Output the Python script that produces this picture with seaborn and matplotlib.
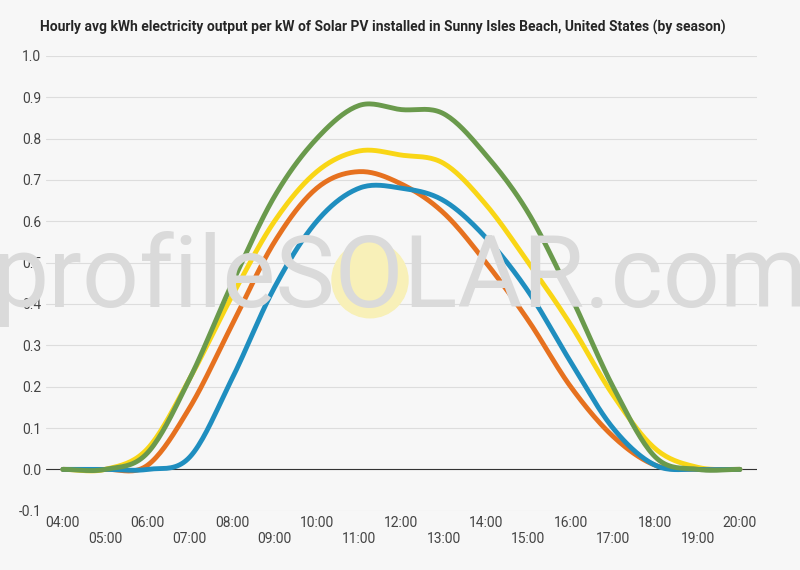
import numpy as np
import pandas as pd
import matplotlib.pyplot as plt
import seaborn as sns
from matplotlib.patches import Ellipse

sns.set_style("whitegrid")
plt.rcParams['font.family'] = ['Roboto', 'DejaVu Sans']

hours = list(range(4, 21))
summer = [0, 0, 0.05, 0.22, 0.42, 0.60, 0.72, 0.77, 0.76, 0.74, 0.64, 0.50, 0.35, 0.18, 0.05, 0.005, 0]
autumn = [0, 0, 0.01, 0.15, 0.35, 0.55, 0.68, 0.72, 0.69, 0.62, 0.50, 0.36, 0.20, 0.08, 0.01, 0, 0]
winter = [0, 0, 0, 0.03, 0.22, 0.44, 0.60, 0.68, 0.68, 0.65, 0.56, 0.43, 0.26, 0.10, 0.01, 0, 0]
spring = [0, 0, 0.04, 0.22, 0.45, 0.66, 0.80, 0.88, 0.87, 0.86, 0.76, 0.62, 0.42, 0.20, 0.03, 0, 0]
series = {'Summer': summer, 'Autumn': autumn, 'Winter': winter, 'Spring': spring}
colors = {'Summer': '#f9d616', 'Autumn': '#e6711f', 'Winter': '#1f8ebf', 'Spring': '#6a9a4c'}


def smooth(x, y, n=20):
    # Catmull-Rom through the hourly points
    x = np.asarray(x, float); y = np.asarray(y, float)
    yp = np.concatenate([[y[0]], y, [y[-1]]])
    xs, ys = [], []
    for i in range(len(x) - 1):
        t = np.linspace(0, 1, n, endpoint=False)
        p0, p1, p2, p3 = yp[i], yp[i + 1], yp[i + 2], yp[i + 3]
        v = 0.5 * (2 * p1 + (-p0 + p2) * t + (2 * p0 - 5 * p1 + 4 * p2 - p3) * t ** 2
                   + (-p0 + 3 * p1 - 3 * p2 + p3) * t ** 3)
        xs.extend(x[i] + t); ys.extend(v)
    xs.append(x[-1]); ys.append(y[-1])
    return np.array(xs), np.array(ys)


rows = []
for name, vals in series.items():
    xs, ys = smooth(hours, vals)
    rows.append(pd.DataFrame({'hour': xs, 'kwh': ys, 'season': name}))
df = pd.concat(rows)

fig, ax = plt.subplots(figsize=(8, 5.7), dpi=100)
fig.patch.set_facecolor('#f7f7f7')
ax.set_facecolor('none')
fig.subplots_adjust(left=0.0575, right=0.946, top=0.902, bottom=0.104)

# watermark
fig.text(0.5, 0.51, 'profileSOLAR.com', fontsize=72, color='#dadada', ha='center', va='center', zorder=0)
fig.patches.append(Ellipse((0.4625, 0.509), 0.095, 0.133, transform=fig.transFigure,
                           color='#f8f0b8', zorder=0))

sns.lineplot(data=df, x='hour', y='kwh', hue='season', palette=colors, linewidth=3.5, ax=ax, zorder=3)

ax.set_xlim(3.6, 20.4)
ax.set_ylim(-0.1, 1.0)
ax.set_yticks(np.arange(-0.1, 1.01, 0.1))
ax.set_yticklabels([f'{v:.1f}' for v in np.arange(-0.1, 1.01, 0.1)], color='#444444', fontsize=10)
ax.set_xticks(hours)
ax.set_xticklabels([f'{h:02d}:00' if h % 2 == 0 else f'\n{h:02d}:00' for h in hours], color='#444444', fontsize=10)
ax.grid(axis='x', visible=False)
ax.grid(axis='y', color='#dddddd')
ax.axhline(0, color='#333333', linewidth=0.8, zorder=2)
for s in ax.spines.values():
    s.set_visible(False)
ax.set_xlabel('')
ax.set_ylabel('')
ax.tick_params(length=0)

fig.text(0.05, 0.952, 'Hourly avg kWh electricity output per kW of Solar PV installed in Sunny Isles Beach, United States (by season)',
         fontsize=10, fontweight='bold', ha='left', va='center')
ax.legend(loc='center', bbox_to_anchor=(0.5, -0.165), ncol=4, frameon=False, fontsize=10,
          handlelength=2.5, columnspacing=1.2, borderpad=0)

plt.savefig('out.png', dpi=100, facecolor=fig.get_facecolor())
